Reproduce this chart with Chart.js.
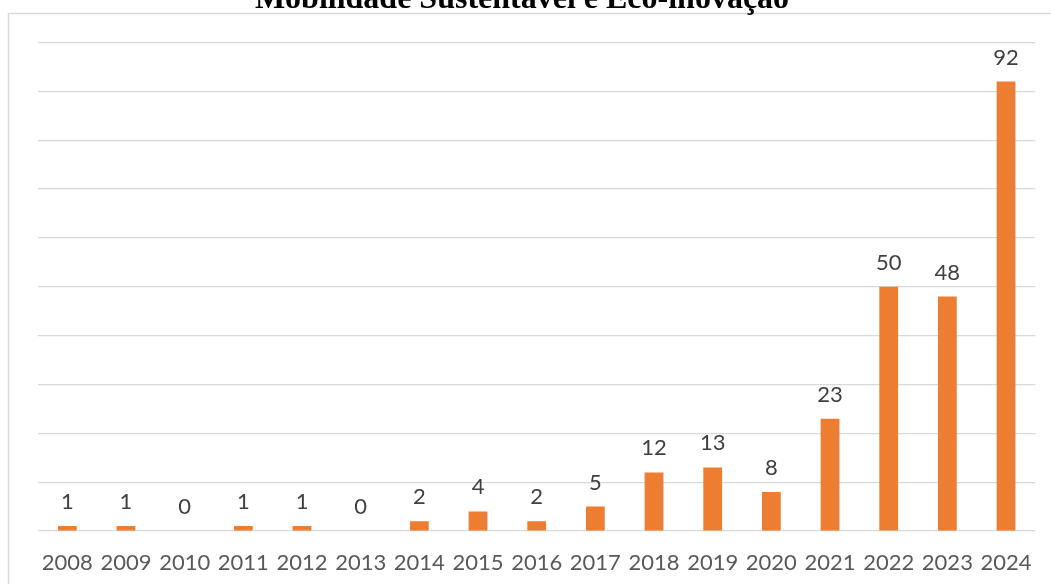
<!DOCTYPE html>
<html>
<head>
<meta charset="utf-8">
<script src="https://cdn.jsdelivr.net/npm/chart.js@4/dist/chart.umd.min.js"></script>
<style>
  html, body { margin: 0; padding: 0; background: #ffffff; }
  #wrap { position: relative; width: 1051px; height: 584px; }
</style>
</head>
<body>
<div id="wrap"><canvas id="c" width="1051" height="584"></canvas></div>
<script>
const chartTitle = 'Mobilidade Sustentável e Eco-inovação';
const years = ['2008','2009','2010','2011','2012','2013','2014','2015','2016','2017','2018','2019','2020','2021','2022','2023','2024'];
const counts = [1, 1, 0, 1, 1, 0, 2, 4, 2, 5, 12, 13, 8, 23, 50, 48, 92];
const yMin = 0;
const yMax = 100;
const yStep = 10;

const frameAndTitle = {
  id: 'frameAndTitle',
  beforeDraw(chart) {
    const ctx = chart.ctx;
    ctx.save();
    ctx.strokeStyle = '#d9d9d9';
    ctx.lineWidth = 1.5;
    ctx.strokeRect(8.5, 13.5, 2000, 2000);
    ctx.restore();
  },
  afterDraw(chart) {
    const ctx = chart.ctx;
    ctx.save();
    ctx.font = 'bold 32px "Liberation Serif", "Times New Roman", serif';
    ctx.fillStyle = '#000000';
    ctx.textAlign = 'center';
    ctx.textBaseline = 'alphabetic';
    ctx.fillText(chartTitle, 522, 7.5);
    ctx.restore();
  }
};

const valueLabels = {
  id: 'valueLabels',
  afterDatasetsDraw(chart) {
    const ctx = chart.ctx;
    const meta = chart.getDatasetMeta(0);
    const data = chart.data.datasets[0].data;
    ctx.save();
    ctx.font = '22px Lato, "Open Sans", sans-serif';
    ctx.fillStyle = '#404040';
    ctx.textAlign = 'center';
    ctx.textBaseline = 'alphabetic';
    meta.data.forEach((bar, i) => {
      ctx.fillText(String(data[i]), bar.x, bar.y - 17);
    });
    ctx.restore();
  }
};

new Chart(document.getElementById('c'), {
  type: 'bar',
  data: {
    labels: years,
    datasets: [{
      data: counts,
      backgroundColor: '#ED7D31',
      borderWidth: 0,
      categoryPercentage: 1.0,
      barPercentage: 0.32
    }]
  },
  options: {
    responsive: false,
    animation: false,
    devicePixelRatio: 1,
    layout: { padding: { top: 42.5, left: 38, right: 15, bottom: 0 } },
    plugins: {
      legend: { display: false },
      title: { display: false },
      tooltip: { enabled: false }
    },
    scales: {
      x: {
        grid: { display: false, drawTicks: false },
        border: { display: false },
        ticks: {
          color: '#595959',
          font: { family: 'Lato', size: 22 },
          padding: 19,
          maxRotation: 0,
          autoSkip: false
        },
        afterFit(scale) { scale.height = 53; }
      },
      y: {
        min: yMin,
        max: yMax,
        ticks: { display: false, stepSize: yStep },
        grid: { color: '#d9d9d9', lineWidth: 1.25, drawTicks: false },
        border: { display: false },
        afterFit(scale) { scale.width = 0; }
      }
    }
  },
  plugins: [frameAndTitle, valueLabels]
});
</script>
</body>
</html>
